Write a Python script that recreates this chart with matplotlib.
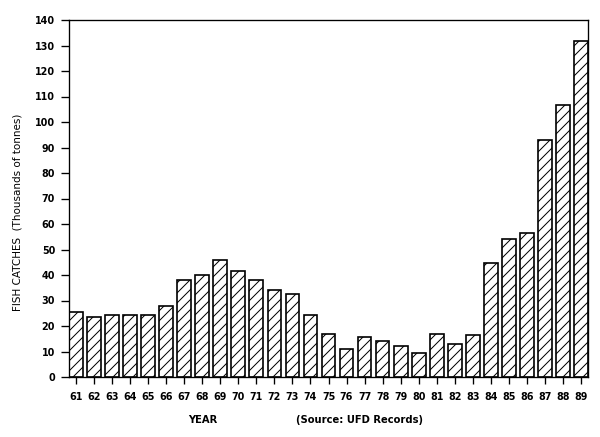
import matplotlib
matplotlib.use("Agg")
import matplotlib.pyplot as plt

years = ["61", "62", "63", "64", "65", "66", "67", "68", "69", "70", "71", "72", "73", "74", "75",
         "76", "77", "78", "79", "80", "81", "82", "83", "84", "85", "86", "87", "88", "89"]
catches = [25.5, 23.5, 24.5, 24.5, 24.5, 28, 38, 40, 46, 41.5, 38, 34, 32.5, 24.3, 16.9,
           11.1, 15.5, 14, 12, 9.5, 16.7, 12.8, 16.6, 44.6, 54, 56.5, 92.8, 106.5, 131.9]
yticks = list(range(0, 141, 10))

DPI = 60
plt.rcParams['hatch.linewidth'] = 1.2
fig = plt.figure(figsize=(600 / DPI, 437 / DPI), dpi=DPI)
ax = fig.add_axes([69 / 600, 1 - 377 / 437, (588 - 69) / 600, (377 - 20) / 437])

x = list(range(len(years)))
ax.bar(x, catches, width=0.76, color="white", edgecolor="black", linewidth=2.0, hatch="//")
ax.set_xlim(-0.38, len(years) - 1 + 0.38)
ax.set_ylim(0, 140)
ax.set_xticks(x)
ax.set_xticklabels(years)
ax.set_yticks(yticks)
ax.set_yticklabels([str(v) for v in yticks])

for s in ax.spines.values():
    s.set_linewidth(1.6)
ax.tick_params(axis="both", direction="out", width=1.6, labelsize=11.5)
ax.tick_params(axis="x", length=8.4, pad=9)
ax.tick_params(axis="y", length=9.6, pad=7)
for lab in ax.get_xticklabels() + ax.get_yticklabels():
    lab.set_fontweight("bold")

fig.text(18 / 600, 1 - 212 / 437, "FISH CATCHES  (Thousands of tonnes)", rotation=90,
         ha="center", va="center", fontsize=12.5)
fig.text(203 / 600, 1 - 420 / 437, "YEAR", ha="center", va="center", fontsize=12, fontweight="bold")
fig.text(359 / 600, 1 - 420 / 437, "(Source: UFD Records)", ha="center", va="center",
         fontsize=12, fontweight="bold")

fig.savefig("out.png", dpi=DPI)
